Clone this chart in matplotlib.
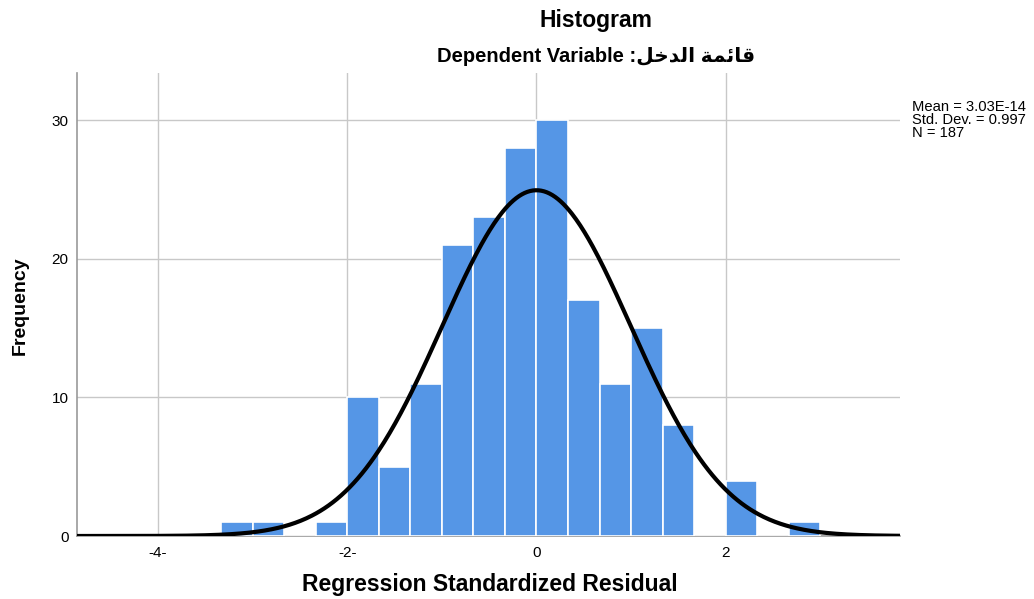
import numpy as np
import matplotlib
matplotlib.use("Agg")
import matplotlib.pyplot as plt

# Data
bin_width = 1.0 / 3.0
bin_starts = [i / 3.0 for i in range(-10, 9)]
counts = [1, 1, 0, 1, 10, 5, 11, 21, 23, 28, 30, 17, 11, 15, 8, 0, 4, 0, 1]
mean_val = 3.03e-14
std_val = 0.997
n_val = 187
x_ticks = [-4, -2, 0, 2]
x_tick_labels = ["-4-", "-2-", "0", "2"]
y_ticks = [0, 10, 20, 30]

plt.rcParams['font.family'] = ['Liberation Sans', 'DejaVu Sans']

fig = plt.figure(figsize=(10.34, 5.99), dpi=100)
ax = fig.add_axes([77/1034, 63/599, 823/1034, 463/599])

ax.bar(bin_starts, counts, width=bin_width, align='edge', color='#5596E6',
       edgecolor='white', linewidth=1.2, zorder=3)

xs = np.linspace(-4.9, 3.9, 600)
pdf = n_val * bin_width / (std_val * np.sqrt(2 * np.pi)) * np.exp(-0.5 * ((xs - mean_val) / std_val) ** 2)
ax.plot(xs, pdf, color='black', linewidth=3.0, zorder=4, solid_capstyle='round')

ax.set_xlim(-4.854, 3.840)
ax.set_ylim(0, 33.4)
ax.set_xticks(x_ticks)
ax.set_xticklabels(x_tick_labels)
ax.set_yticks(y_ticks)
ax.tick_params(axis='both', length=0, labelsize=11)
ax.tick_params(axis='y', pad=6)
ax.tick_params(axis='x', pad=7)
ax.grid(True, color='#c8c8c8', linewidth=1.0, zorder=0)
ax.set_axisbelow(True)
for s in ['top', 'right']:
    ax.spines[s].set_visible(False)
ax.spines['left'].set_color('#999999')
ax.spines['bottom'].set_color('#999999')
ax.spines['left'].set_linewidth(1.2)
ax.spines['bottom'].set_linewidth(1.2)

fig.text(490/1034, 1 - 585/599, "Regression Standardized Residual", ha='center', va='center',
         fontsize=16.5, fontweight='bold')
fig.text(20/1034, 1 - 306/599, "Frequency", ha='center', va='center', rotation=90,
         fontsize=14, fontweight='bold')

arabic_visual = "\uFEDE\uFEA7\uFEAA\uFEDF\uFE8D \uFE94\uFEE4\uFE8B\uFE8E\uFED7"
fig.text(596/1034, 1 - 20/599, "Histogram", ha='center', va='center',
         fontsize=16.5, fontweight='bold')
fig.text(596/1034, 1 - 57/599, "Dependent Variable :" + arabic_visual, ha='center', va='center',
         fontsize=14.5, fontweight='bold', family=['Liberation Sans', 'DejaVu Sans'])

fig.text(912/1034, 1 - 120/599,
         "Mean = 3.03E-14\nStd. Dev. = 0.997\nN = 187",
         ha='left', va='center', fontsize=10.6, linespacing=0.92)

fig.savefig("out.png", dpi=100, facecolor='white')
